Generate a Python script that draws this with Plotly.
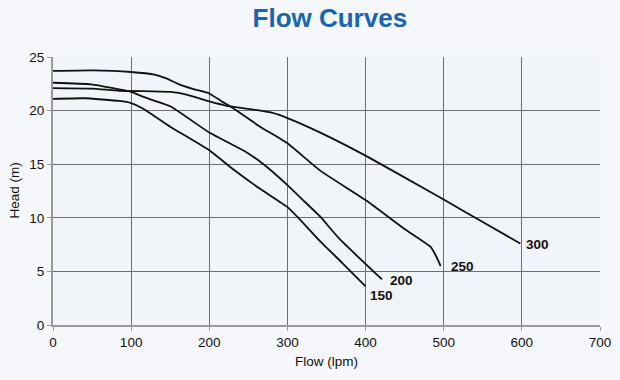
import plotly.graph_objects as go

# ---- data ----
models = ["150", "200", "250", "300"]

flow_150 = [0, 40, 85, 100, 115, 150, 200, 231, 265, 300, 314, 342, 370, 400]
head_150 = [21.1, 21.15, 20.9, 20.7, 20.2, 18.5, 16.3, 14.5, 12.7, 11.0, 10.0, 7.8, 5.8, 3.6]

flow_200 = [0, 49, 100, 115, 150, 200, 226, 248, 271, 300, 320, 342, 367, 421]
head_200 = [22.6, 22.45, 21.75, 21.3, 20.4, 17.95, 16.95, 16.1, 14.9, 13.05, 11.65, 10.1, 8.0, 4.25]

flow_250 = [0, 50, 100, 130, 145, 160, 180, 200, 215, 231, 265, 300, 342, 400, 449, 483, 489, 493, 496]
head_250 = [23.7, 23.75, 23.6, 23.35, 23.0, 22.5, 22.0, 21.6, 20.9, 20.2, 18.5, 16.95, 14.4, 11.65, 9.0, 7.3, 6.6, 6.0, 5.5]

flow_300 = [0, 50, 85, 128, 150, 171, 200, 222, 256, 280, 300, 342, 400, 483, 500, 550, 598]
head_300 = [22.1, 22.05, 21.85, 21.8, 21.75, 21.5, 20.85, 20.45, 20.1, 19.8, 19.3, 17.95, 15.8, 12.4, 11.7, 9.6, 7.6]

x_ticks = [0, 100, 200, 300, 400, 500, 600, 700]
y_ticks = [0, 5, 10, 15, 20, 25]

series = {
    "150": (flow_150, head_150),
    "200": (flow_200, head_200),
    "250": (flow_250, head_250),
    "300": (flow_300, head_300),
}

# label offsets (pixels) relative to each curve's end point
label_shift = {"150": (2, -9), "200": (6, -1), "250": (8, 0), "300": (4, -1)}

FONT = "Liberation Sans, Arial, Helvetica, sans-serif"

fig = go.Figure()
for name in models:
    xs, ys = series[name]
    fig.add_trace(go.Scatter(x=xs, y=ys, mode="lines", name=name,
                             line=dict(color="#111111", width=1.8, shape="spline", smoothing=0.4),
                             showlegend=False, hoverinfo="x+y", cliponaxis=False))
    dx, dy = label_shift[name]
    fig.add_annotation(x=xs[-1], y=ys[-1], text=f"<b>{name}</b>", showarrow=False,
                       xanchor="left", yanchor="middle", xshift=dx, yshift=dy,
                       font=dict(family=FONT, size=13.5, color="#111111"))

# y-axis title placed as a rotated annotation for precise positioning
fig.add_annotation(x=-0.072, y=0.5, xref="paper", yref="paper", text="Head (m)",
                   textangle=-90, showarrow=False, xanchor="center", yanchor="middle",
                   font=dict(family=FONT, size=13.5, color="#111111"))

axis_common = dict(
    showgrid=True, gridcolor="#6e6e6e", gridwidth=1,
    showline=True, linecolor="#9a9a9a", linewidth=2, mirror=False,
    ticks="outside", ticklen=4, tickcolor="#9a9a9a",
    tickfont=dict(family=FONT, size=13.5, color="#111111"),
    zeroline=False, automargin=False,
)

fig.update_layout(
    width=620, height=380,
    margin=dict(l=53, r=20, t=57, b=55),
    paper_bgcolor="#f5f7fa", plot_bgcolor="#f1f4f8",
    title=dict(text="<b>Flow Curves</b>", x=0.532, xanchor="center", y=0.953, yanchor="middle",
               font=dict(family=FONT, size=26, color="#1766b2")),
    xaxis=dict(range=[0, 700], tickvals=x_ticks,
               title=dict(text="Flow (lpm)", font=dict(family=FONT, size=13.5, color="#111111"), standoff=7),
               **axis_common),
    yaxis=dict(range=[0, 25], tickvals=y_ticks, **axis_common),
)

# remove the default page margin so the 620x380 figure fills the window exactly
fig.write_html("out.html", config={"displayModeBar": False},
               post_script="document.body.style.margin='0';")
